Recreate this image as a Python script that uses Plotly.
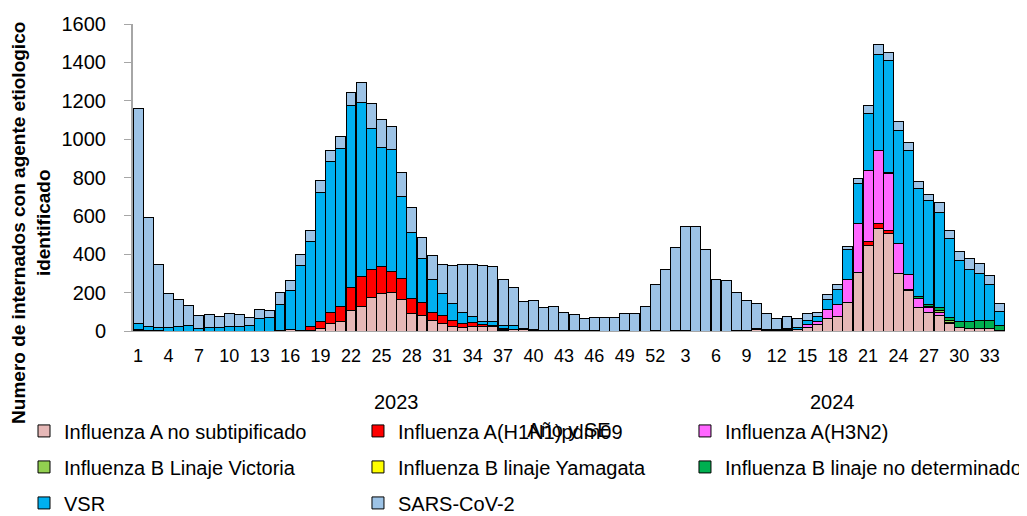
import plotly.graph_objects as go

# Semanas epidemiologicas (SE): 2023 completo y 2024 hasta la SE 34
anios = [2023] * 52 + [2024] * 34
semanas = list(range(1, 53)) + list(range(1, 35))

flu_a_nosub = [3, 2, 1, 0, 0, 0, 0, 0, 0, 0, 0, 0, 0, 0, 2, 8, 3, 5, 14, 38,
               47, 106, 129, 176, 198, 203, 165, 92, 82, 56, 37, 26, 19, 22, 21, 21, 5, 10, 6, 3,
               0, 0, 0, 0, 0, 0, 0, 0, 0, 0, 0, 0,
               0, 0, 0, 0, 0, 0, 0, 2, 0, 6, 3, 4, 5, 6, 17, 35, 66, 78, 146, 306,
               445, 532, 508, 301, 209, 123, 96, 80, 40, 20, 12, 12, 12, 3]
flu_h1n1 = [0, 0, 0, 0, 0, 0, 0, 0, 0, 0, 0, 0, 0, 0, 0, 0, 2, 18, 38, 58,
            83, 122, 154, 146, 136, 108, 110, 78, 66, 41, 45, 30, 19, 21, 12, 9, 3, 0, 0, 0,
            0, 0, 0, 0, 0, 0, 0, 0, 0, 0, 0, 0,
            0, 0, 0, 0, 0, 0, 0, 0, 0, 0, 0, 0, 0, 0, 0, 0, 0, 0, 0, 0,
            21, 30, 15, 0, 8, 0, 0, 0, 0, 0, 0, 0, 0, 0]
flu_h3n2 = [0] * 52 + [0, 2, 5, 0, 0, 0, 0, 0, 0, 0, 0, 0, 2, 3, 18, 14, 44, 58, 125, 252,
                       371, 379, 296, 153, 79, 44, 27, 19, 5, 0, 2, 0, 2, 0]
flu_b_victoria = [0] * 52 + [0] * 26 + [6, 8, 8, 0, 0, 0, 0, 0]
flu_b_yamagata = [0] * 86
flu_b_nodet = [5] + [0] * 35 + [6, 0, 0, 0, 0, 0, 3, 0, 0, 0, 0, 0, 0, 0, 0, 0] + \
              [0] * 22 + [5, 0, 0, 12, 11, 16, 18, 27, 33, 42, 43, 28]
vsr = [30, 22, 19, 19, 26, 31, 12, 20, 20, 23, 22, 27, 63, 70, 135, 202, 338, 441, 671, 789,
       823, 949, 910, 732, 621, 633, 428, 345, 229, 173, 113, 88, 58, 35, 19, 22, 14, 20, 8, 6,
       5, 4, 2, 3, 2, 2, 0, 0, 2, 0, 0, 2,
       0, 0, 0, 0, 0, 0, 0, 0, 3, 7, 4, 4, 8, 10, 22, 26, 52, 81, 152, 209,
       295, 502, 588, 589, 643, 565, 542, 496, 409, 322, 276, 247, 186, 73]
sars_cov2 = [1122, 569, 328, 178, 136, 103, 70, 67, 58, 69, 63, 43, 48, 36, 63, 51, 55, 61, 63, 56,
             63, 65, 103, 130, 148, 122, 123, 129, 111, 121, 154, 199, 250, 268, 291, 285, 243, 198, 139, 149,
             117, 124, 92, 84, 62, 69, 71, 71, 87, 89, 130, 238,
             321, 432, 539, 544, 423, 266, 264, 200, 155, 131, 85, 58, 62, 44, 33, 19, 29, 23, 20, 28,
             42, 49, 42, 49, 45, 37, 31, 51, 45, 47, 54, 52, 47, 37]

series = [
    ('Influenza A no subtipificado', flu_a_nosub, '#E6B8B7', 'legend'),
    ('Influenza A(H1N1)pdm09', flu_h1n1, '#FF0000', 'legend2'),
    ('Influenza A(H3N2)', flu_h3n2, '#FF66FF', 'legend3'),
    ('Influenza B Linaje Victoria', flu_b_victoria, '#92D050', 'legend'),
    ('Influenza B linaje Yamagata', flu_b_yamagata, '#FFFF00', 'legend2'),
    ('Influenza B linaje no determinado', flu_b_nodet, '#00B050', 'legend3'),
    ('VSR', vsr, '#00B0F0', 'legend'),
    ('SARS-CoV-2', sars_cov2, '#9DC3E6', 'legend2'),
]

categorias = [f'{a}-SE{s:02d}' for a, s in zip(anios, semanas)]

fuente = 'Liberation Sans, Arial, sans-serif'

fig = go.Figure()

for nombre, valores, color, leyenda in series:
    fig.add_trace(
        go.Bar(
            x=categorias,
            y=valores,
            name=nombre,
            legend=leyenda,
            legendgroup=nombre,
            marker=dict(color=color, line=dict(color='black', width=1)),
        )
    )

# etiqueta de anio centrada bajo cada grupo de semanas
for anio in sorted(set(anios)):
    idx = [i for i, a in enumerate(anios) if a == anio]
    fig.add_annotation(
        x=(idx[0] + idx[-1]) / 2, y=-0.231,
        xref='x', yref='paper', xanchor='center', yanchor='middle',
        text=str(anio), showarrow=False,
        font=dict(family=fuente, size=20, color='black'),
    )

fig.add_annotation(
    x=-0.117, y=0.352, xref='paper', yref='paper',
    xanchor='center', yanchor='middle',
    text='Numero de internados con agente etiologico<br>identificado',
    textangle=-90, showarrow=False,
    font=dict(family=fuente, size=19, color='black', weight='bold'),
)

leyenda_base = dict(
    orientation='v', yanchor='top', xanchor='left', y=-0.262,
    font=dict(family=fuente, size=20, color='black'),
    tracegroupgap=7, bgcolor='rgba(0,0,0,0)',
    itemclick=False, itemdoubleclick=False,
)

eje_y = dict(
    range=[0, 1600],
    dtick=200,
    tickcolor='#A6A6A6', tickwidth=1, ticklen=7,
    showgrid=False, zeroline=False,
    automargin=False,
)

# la pagina agrega 8px de margen alrededor del grafico
fig.update_layout(
    width=1019,
    height=508,
    barmode='stack',
    bargap=0.02,
    plot_bgcolor='white',
    paper_bgcolor='white',
    margin=dict(l=125, r=22, t=16, b=185, autoexpand=False),
    legend=dict(leyenda_base, x=-0.125),
    legend2=dict(leyenda_base, x=0.258),
    legend3=dict(leyenda_base, x=0.633),
    yaxis=dict(
        eje_y,
        ticks='outside',
        ticklabelstandoff=14,
        tickfont=dict(family=fuente, size=20, color='black'),
        showline=True, linecolor='#A6A6A6', linewidth=2,
    ),
    yaxis2=dict(
        eje_y,
        overlaying='y', side='left',
        ticks='inside',
        showticklabels=False, showline=False,
    ),
)

fig.update_xaxes(
    type='category',
    range=[-0.5, len(categorias) - 0.5],
    tickmode='array',
    tickvals=categorias[::3],
    ticktext=[str(s) for s in semanas[::3]],
    tickangle=0,
    ticks='',
    ticklabelstandoff=8,
    tickfont=dict(family=fuente, size=18, color='black'),
    showline=True, linecolor='#A6A6A6', linewidth=1,
    showgrid=False,
    title=dict(text='Año y SE', standoff=58, font=dict(family=fuente, size=20, color='black')),
    automargin=False,
)

fig.write_html("out.html")
